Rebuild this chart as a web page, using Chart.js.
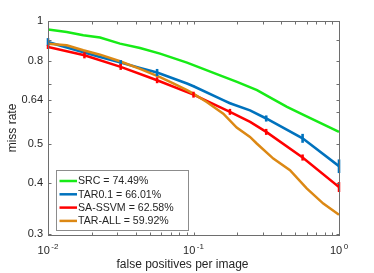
<!DOCTYPE html>
<html>
<head>
<meta charset="utf-8">
<script src="https://cdn.jsdelivr.net/npm/chart.js@4.4.1/dist/chart.umd.min.js"></script>
<style>
  html, body { margin: 0; padding: 0; background: #fff; }
  #wrap { width: 374px; height: 273px; }
</style>
</head>
<body>
<div id="wrap"><canvas id="myChart" width="374" height="273"></canvas></div>
<script>
// series: false positives per image (x) vs miss rate (y)
const seriesNames = ["SRC = 74.49%", "TAR0.1 = 66.01%", "SA-SSVM = 62.58%", "TAR-ALL = 59.92%"];

const srcFppi = [0.01, 0.01345, 0.01748, 0.02278, 0.03125, 0.04289, 0.05887, 0.0902, 0.1521, 0.199, 0.2732, 0.3303, 0.4391, 0.5747, 1.0];
const srcMiss = [0.953, 0.940, 0.923, 0.911, 0.880, 0.859, 0.832, 0.791, 0.736, 0.709, 0.677, 0.652, 0.616, 0.588, 0.535];

const tar01Fppi = [0.01, 0.0178, 0.0228, 0.0316, 0.0429, 0.0562, 0.0902, 0.1, 0.16, 0.178, 0.2445, 0.316, 0.562, 1.0];
const tar01Miss = [0.888, 0.837, 0.816, 0.791, 0.767, 0.748, 0.703, 0.692, 0.640, 0.629, 0.604, 0.577, 0.516, 0.441];
const tar01Err = [0.020, 0, 0, 0.011, 0, 0.015, 0, 0.003, 0, 0.003, 0, 0.010, 0.013, 0.017];

const ssvmFppi = [0.01, 0.0178, 0.0316, 0.0562, 0.1, 0.178, 0.245, 0.316, 0.562, 1.0];
const ssvmMiss = [0.864, 0.824, 0.772, 0.716, 0.660, 0.599, 0.566, 0.535, 0.463, 0.392];
const ssvmErr = [0.010, 0.014, 0.013, 0.012, 0.011, 0.010, 0, 0.009, 0.008, 0.011];

const tarAllFppi = [0.01, 0.01345, 0.01748, 0.02278, 0.03125, 0.04289, 0.05887, 0.0726, 0.0902, 0.0997, 0.1232, 0.1602, 0.1981, 0.2445, 0.272, 0.3536, 0.4604, 0.5998, 0.78, 1.0];
const tarAllMiss = [0.880, 0.872, 0.848, 0.827, 0.797, 0.763, 0.729, 0.703, 0.677, 0.664, 0.633, 0.593, 0.548, 0.520, 0.501, 0.460, 0.431, 0.389, 0.357, 0.335];

// axis ticks
const xMajor = [0.01, 0.1, 1];
const xMajorExp = ["-2", "-1", "0"];
const xMinor = [0.02, 0.03, 0.04, 0.05, 0.06, 0.07, 0.08, 0.09, 0.2, 0.3, 0.4, 0.5, 0.6, 0.7, 0.8, 0.9];
const yTicks = [0.3, 0.4, 0.5, 0.6, 0.64, 0.7, 0.8, 0.9, 1];
const yLabels = ["0.3", "0.4", "0.5", "", "0.64", "", "0.8", "", "1"];

const colors = ["#17eb17", "#0072bd", "#ff0000", "#dc8814"];
const textColor = "#262626";
const axisColor = "#6e6e6e";
const FONT = "'Liberation Sans', Arial, sans-serif";

function pts(xs, ys) {
  return xs.map((x, i) => ({ x: x, y: ys[i] }));
}

const errBars = {
  id: "errBars",
  afterDatasetsDraw(chart) {
    const ctx = chart.ctx;
    const y = chart.scales.y;
    chart.data.datasets.forEach((ds, di) => {
      if (!ds.errors) return;
      const meta = chart.getDatasetMeta(di);
      ctx.save();
      ctx.strokeStyle = ds.borderColor;
      ctx.lineWidth = ds.borderWidth;
      meta.data.forEach((p, i) => {
        const e = ds.errors[i];
        if (!e) return;
        const v = ds.data[i].y;
        ctx.beginPath();
        ctx.moveTo(p.x, y.getPixelForValue(v + e));
        ctx.lineTo(p.x, y.getPixelForValue(v - e));
        ctx.stroke();
      });
      ctx.restore();
    });
  }
};

const matlabAxes = {
  id: "matlabAxes",
  afterDraw(chart) {
    const ctx = chart.ctx;
    const a = chart.chartArea;
    const xs = chart.scales.x;
    const ys = chart.scales.y;
    const L = Math.round(a.left) + 0.5, R = Math.round(a.right) + 0.5;
    const T = Math.round(a.top) + 0.5, B = Math.round(a.bottom) + 0.5;
    ctx.save();
    ctx.strokeStyle = axisColor;
    ctx.lineWidth = 1;
    ctx.strokeRect(L, T, R - L, B - T);
    ctx.beginPath();
    const tl = 3;
    xMajor.concat(xMinor).forEach(v => {
      const px = Math.round(xs.getPixelForValue(v)) + 0.5;
      ctx.moveTo(px, B); ctx.lineTo(px, B - tl);
      ctx.moveTo(px, T); ctx.lineTo(px, T + tl);
    });
    yTicks.forEach(v => {
      const py = Math.round(ys.getPixelForValue(v)) + 0.5;
      ctx.moveTo(L, py); ctx.lineTo(L + tl, py);
      ctx.moveTo(R, py); ctx.lineTo(R - tl, py);
    });
    ctx.stroke();

    // y tick labels
    ctx.fillStyle = textColor;
    ctx.font = "11px " + FONT;
    ctx.textAlign = "right";
    ctx.textBaseline = "middle";
    yTicks.forEach((v, i) => {
      if (yLabels[i]) ctx.fillText(yLabels[i], a.left - 5, ys.getPixelForValue(v));
    });

    // x tick labels 10^n
    ctx.textBaseline = "alphabetic";
    ctx.textAlign = "left";
    xMajor.forEach((v, i) => {
      ctx.font = "11px " + FONT;
      const w1 = ctx.measureText("10").width;
      ctx.font = "8px " + FONT;
      const w2 = ctx.measureText(xMajorExp[i]).width;
      const px = xs.getPixelForValue(v);
      const x0 = px - (w1 + 1.5 + w2) / 2;
      ctx.font = "11px " + FONT;
      ctx.fillText("10", x0, 253.5);
      ctx.font = "8px " + FONT;
      ctx.fillText(xMajorExp[i], x0 + w1 + 1.5, 248.5);
    });

    // axis titles
    ctx.font = "12px " + FONT;
    ctx.textAlign = "center";
    ctx.textBaseline = "middle";
    ctx.fillText("false positives per image", 182.5, 264.5);
    ctx.save();
    ctx.translate(13, (a.top + a.bottom) / 2);
    ctx.rotate(-Math.PI / 2);
    ctx.fillText("miss rate", 0, 0);
    ctx.restore();

    // legend
    const lx = 56.5, ly = 170.5, lw = 132, lh = 60;
    ctx.fillStyle = "#fff";
    ctx.fillRect(lx, ly, lw, lh);
    ctx.strokeStyle = "#8c8c8c";
    ctx.strokeRect(lx, ly, lw, lh);
    ctx.font = "10.6px " + FONT;
    ctx.textAlign = "left";
    chart.data.datasets.forEach((ds, i) => {
      const ry = 181 + i * 13.3;
      ctx.strokeStyle = ds.borderColor;
      ctx.lineWidth = 2.5;
      ctx.beginPath();
      ctx.moveTo(59.5, ry); ctx.lineTo(77, ry);
      ctx.stroke();
      ctx.fillStyle = textColor;
      ctx.fillText(ds.label, 78, ry + 0.5);
    });
    ctx.restore();
  }
};

const ctx = document.getElementById("myChart");
const myChart = new Chart(ctx, {
  type: "line",
  data: {
    datasets: [
      { label: seriesNames[0], data: pts(srcFppi, srcMiss), borderColor: colors[0], borderWidth: 2.5, order: 4 },
      { label: seriesNames[1], data: pts(tar01Fppi, tar01Miss), errors: tar01Err, borderColor: colors[1], borderWidth: 2.6, order: 3 },
      { label: seriesNames[2], data: pts(ssvmFppi, ssvmMiss), errors: ssvmErr, borderColor: colors[2], borderWidth: 2.5, order: 2 },
      { label: seriesNames[3], data: pts(tarAllFppi, tarAllMiss), borderColor: colors[3], borderWidth: 2.5, order: 1 },
    ],
  },
  options: {
    responsive: false,
    animation: false,
    events: [],
    elements: {
      point: { radius: 0 },
      line: { tension: 0, fill: false, borderCapStyle: "butt" },
    },
    layout: { padding: { left: 48, right: 35, top: 21, bottom: 38 } },
    plugins: { legend: { display: false }, tooltip: { enabled: false } },
    scales: {
      x: { type: "logarithmic", min: 0.01, max: 1, display: false },
      y: { type: "logarithmic", min: 0.299, max: 1, display: false },
    },
  },
  plugins: [errBars, matlabAxes],
});
</script>
</body>
</html>
